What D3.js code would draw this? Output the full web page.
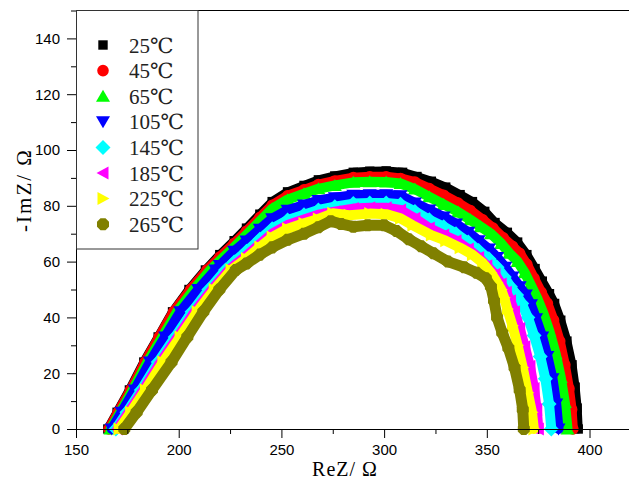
<!DOCTYPE html>
<html><head><meta charset="utf-8">
<script src="https://cdn.jsdelivr.net/npm/d3@7"></script>
<style>
html,body{margin:0;padding:0;background:#fff;}
svg{display:block;}
</style></head>
<body>
<svg id="chart" width="629" height="489"></svg>
<script>
// ---- data (ReZ, -ImZ) ----
const labels = ["25℃","45℃","65℃","105℃","145℃","185℃","225℃","265℃"];
const colors = ["#000000","#ff0000","#00ff00","#0000ff","#00ffff","#ff00ff","#ffff00","#808000"];
const shapes = ["square","circle","triUp","triDown","diamond","triLeft","triRight","hexagon"];

const s25 = [[165.5,0],[170,6],[176,14],[183,24],[190,33],[197,42],[205,50],[213,57],[220,62.5],[227,67.5],[233,72],[239.5,77],[245.5,81.5],[253,85],[261,87.3],[268,89.3],[276,90.7],[285,92],[293,92.4],[301,92.5],[309,92],[316,90.5],[323,88.8],[330,86.7],[337,84],[343,81.5],[349,78],[354,74],[360,70.5],[365,67],[369.5,62.5],[373.5,57.5],[377,53],[380.5,48.5],[383,45],[386,39],[389,31.5],[391.5,23],[393,15],[394,7.5],[394.5,0]];
const s45 = [[166,0],[170.5,6],[176.6,14],[183.6,24],[190.5,33],[197.5,42],[205.8,50],[213.8,57],[220,61.6],[227,66.5],[233,70.9],[239.5,75.8],[245.5,80.2],[253,83.6],[261,85.7],[268,87.6],[276,88.9],[285,90.1],[293,90.4],[301,90.4],[308,89.8],[315,88.5],[322,86.2],[329,83.8],[336,81],[342,78.3],[348,75],[353,72],[358,68.5],[362.5,65.5],[366,63],[369.5,59],[373,54],[376.5,49],[379.5,45],[382.5,39],[385.5,31.5],[388,23],[390,14.5],[391.3,7],[391.9,0]];
const s65 = [[166.8,0],[171.5,6],[177.6,14],[184.8,24],[192,33],[199.2,42],[207.4,50],[215.4,57],[220,60.3],[227,65.2],[233,69.6],[239.5,74.5],[245.5,78.9],[253,82.2],[261,84.3],[268,86.1],[276,87.3],[285,88.4],[293,88.6],[301,88.5],[308,88],[315,86],[322,83.2],[329,80.5],[336,77.8],[342,75],[347,72.5],[352,70],[357,66.5],[361,63],[365,60],[368.5,56],[371.5,51.5],[374.5,47],[377.5,41.5],[380.5,35],[383.5,27],[386,18.5],[388,9.5],[389.3,0]];
const s105 = [[167.4,0],[172.2,6],[178.6,14],[186,24],[193.4,33],[200.8,42],[209.5,50],[217.9,57],[220,58.6],[227,63.7],[233,67.4],[239.5,71.6],[245.5,75.4],[253,78.4],[261,80.3],[268,81.9],[276,82.9],[285,83.8],[293,84],[301,84],[308,83.6],[315,81],[322,78.5],[329,76],[335,73.5],[341,70.5],[346,67.5],[351,64.5],[355,61.5],[359,58],[362.5,54.5],[366,51],[369,48],[371.5,44.5],[374,39.5],[377,33],[379.5,26],[382,18],[383.8,9],[384.9,0]];
const s145 = [[169.4,0],[174.8,6],[181.8,14],[190,24],[198.3,33],[206.5,42],[214.7,50],[222.8,57],[227,59.9],[233,63.7],[239.5,68],[245.5,71.8],[253,74.9],[261,76.8],[268,78.5],[276,79.7],[285,80.8],[293,81],[301,81],[308,80.6],[315,78],[322,75],[329,72.5],[335,70],[341,67],[346,64],[351,61],[355,58],[358.5,54.5],[361.5,51],[364.5,48],[367,45],[370,40],[373,33.5],[376,26],[378.5,18],[380.3,9],[381.4,0]];
const s185 = [[170.2,0],[175.7,6],[182.8,14],[191.2,24],[199.6,33],[207.8,42],[216.2,50],[224.4,57],[227,58.6],[233,62.1],[239.5,66.3],[245.5,70],[253,73.1],[261,75.1],[268,76.8],[276,77.9],[285,79],[293,79.3],[301,79.3],[308,78.5],[315,75.5],[322,72],[329,69.5],[335,67.5],[341,64.5],[346,61.5],[350,58.5],[354,55.5],[357,52],[359.5,49],[361.5,46],[363.5,42],[366,36],[368.5,29.5],[371,22.5],[373,14.5],[374.3,7],[375.1,0]];
const s225 = [[171,0],[176.6,6],[183.8,14],[192.3,24],[200.7,33],[209,42],[217.3,50],[225.5,57],[233,61.1],[239.5,65.2],[245.5,68.8],[253,71.8],[261,73.7],[268,75.3],[275,77.3],[283,76.6],[293,77.2],[301,77],[308,75.5],[314,73],[323,69.5],[330,67.5],[337,65],[343,62.5],[348,59.5],[352,56],[355,52.5],[357,50],[358.5,47],[360,43],[362.5,37],[365,30],[367.5,22],[370,13],[372,6],[372.9,0]];
const s265 = [[173.5,0],[179.5,6],[187,14],[196.5,24],[204.2,33],[212,42],[219.8,50],[227.8,57],[233,59.3],[239.5,62.5],[245.5,65.1],[253,67.8],[261,70],[268,72.3],[274,74.5],[279,73.5],[285,72.5],[292,73],[300,73],[306,71],[312,68],[318,65.5],[324,63],[331,60],[339,58],[345,56],[349.5,54],[352,51],[353.5,46],[355,40],[357.5,34.5],[360.5,29],[363.5,22],[366,14],[367.5,7],[368,0]];
const seriesData = [s25,s45,s65,s105,s145,s185,s225,s265];

const xMajor = [150,200,250,300,350,400];
const xMinor = [175,225,275,325,375];
const yMajor = [0,20,40,60,80,100,120,140];
const yMinor = [10,30,50,70,90,110,130,150];

// ---- layout ----
const svg = d3.select("#chart");
const x = d3.scaleLinear().domain([150,420]).range([76,630.6]);
const y = d3.scaleLinear().domain([0,150]).range([429,10.5]);

function markerPath(type){
  switch(type){
    case "square": return "M-4.7,-4.7H4.7V4.7H-4.7Z";
    case "circle": return d3.symbol(d3.symbolCircle, Math.PI*5.8*5.8)();
    case "triUp": return "M0,-6.5L7,5.5L-7,5.5Z";
    case "triDown": return "M0,6.5L7,-5.5L-7,-5.5Z";
    case "diamond": return "M0,-7.5L7.5,0L0,7.5L-7.5,0Z";
    case "triLeft": return "M-6.5,0L5.5,-6.5L5.5,6.5Z";
    case "triRight": return "M6.5,0L-5.5,-6.5L-5.5,6.5Z";
    case "hexagon": {
      const pts=[]; for(let i=0;i<8;i++){const a=Math.PI/8+i*Math.PI/4; pts.push([6.5*Math.cos(a),6.5*Math.sin(a)]);}
      return "M"+pts.map(p=>p[0].toFixed(2)+","+p[1].toFixed(2)).join("L")+"Z";
    }
  }
}
const strokeW = [9,10,10,10,10,10,10,11];

const line = d3.line().x(d=>x(d[0])).y(d=>y(d[1]));
const plot = svg.append("g");
seriesData.forEach((data,i)=>{
  const g = plot.append("g");
  g.append("path").datum(data).attr("d",line)
    .attr("fill","none").attr("stroke",colors[i]).attr("stroke-width",strokeW[i])
    .attr("stroke-linejoin","round").attr("stroke-linecap","round");
  g.selectAll("path.m").data(data).enter().append("path").attr("class","m")
    .attr("d",markerPath(shapes[i]))
    .attr("transform",d=>`translate(${x(d[0])},${y(d[1])})`)
    .attr("fill",colors[i]);
});

// ---- axes ----
const fontTick = "'Liberation Sans', Arial, sans-serif";
svg.append("g").attr("transform","translate(0,429)")
  .call(d3.axisBottom(x).tickValues(xMajor).tickSize(9).tickSizeOuter(0).tickPadding(6));
svg.append("g").attr("transform","translate(0,429)")
  .call(d3.axisBottom(x).tickValues(xMinor).tickSize(5).tickFormat("")).select(".domain").remove();
svg.append("g").attr("transform","translate(76,0)")
  .call(d3.axisLeft(y).tickValues(yMajor).tickSize(9).tickSizeOuter(0).tickPadding(7));
svg.append("g").attr("transform","translate(76,0)")
  .call(d3.axisLeft(y).tickValues(yMinor).tickSize(5).tickFormat("")).select(".domain").remove();
svg.selectAll(".tick text").attr("font-family",fontTick).attr("font-size",15).attr("fill","#000");
svg.selectAll(".domain, .tick line").attr("stroke","#000").attr("stroke-width",1);

// top border
svg.append("line").attr("x1",x(150)).attr("x2",x(420)).attr("y1",y(150)).attr("y2",y(150))
  .attr("stroke","#000").attr("stroke-width",1);

// axis titles
const fontSerif = "'Liberation Serif', 'DejaVu Serif', serif";
svg.append("text").attr("x",345).attr("y",476).attr("text-anchor","middle")
  .attr("font-family",fontSerif).attr("font-size",20).attr("letter-spacing",1).attr("fill","#000").text("ReZ/ Ω");
svg.append("text").attr("transform","translate(31,190) rotate(-90)").attr("text-anchor","middle")
  .attr("font-family",fontSerif).attr("font-size",21).attr("letter-spacing",2).attr("fill","#000").text("-ImZ/ Ω");

// ---- legend ----
const leg = svg.append("g");
leg.append("rect").attr("x",76.5).attr("y",10.5).attr("width",121.5).attr("height",238.5)
  .attr("fill","#fff").attr("stroke","#333").attr("stroke-width",1);
labels.forEach((lab,i)=>{
  const cy = 45 + i*25.6;
  leg.append("path").attr("d",markerPath(shapes[i])).attr("transform",`translate(103,${cy})`).attr("fill",colors[i]);
  leg.append("text").attr("x",129).attr("y",cy+7.5).attr("font-family",fontSerif)
    .attr("font-size",21).attr("fill","#222").text(lab);
});
</script>
</body></html>
